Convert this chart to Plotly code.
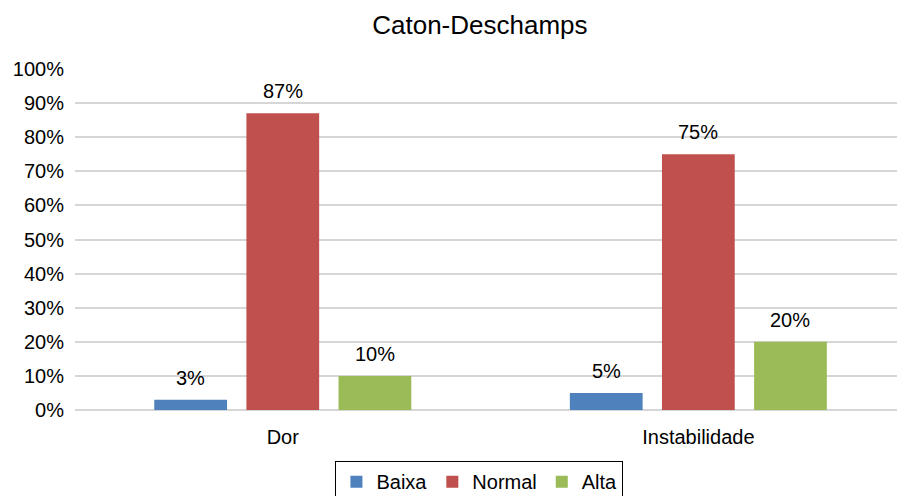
import plotly.graph_objects as go

categories = ["Dor", "Instabilidade"]
series_names = ["Baixa", "Normal", "Alta"]
baixa = [0.03, 0.05]
normal = [0.87, 0.75]
alta = [0.10, 0.20]
colors = ["#4F81BD", "#C0504D", "#9BBB59"]
tick_vals = [i / 10 for i in range(11)]

BARGAP = 0.335
BARGROUPGAP = 0.21
n_series = len(series_names)
slot = (1 - BARGAP) / n_series

fig = go.Figure()
annotations = []
for j, (name, vals, c) in enumerate(zip(series_names, [baixa, normal, alta], colors)):
    fig.add_trace(go.Bar(
        x=categories, y=vals, name=name, marker_color=c, marker_line_width=0,
        hoverinfo="skip",
    ))
    for i, v in enumerate(vals):
        annotations.append(dict(
            x=i + (j - (n_series - 1) / 2) * slot, y=v, xref="x", yref="y",
            text=f"{round(v*100)}%", showarrow=False, yanchor="middle", yshift=22,
            font=dict(size=20, color="black"),
        ))

fig.update_layout(
    width=897, height=496,
    margin=dict(l=75, r=0, t=69, b=86, autoexpand=False),
    paper_bgcolor="white", plot_bgcolor="white",
    font=dict(family="Liberation Sans, Arial, sans-serif", size=20, color="black"),
    title=dict(text="Caton-Deschamps", x=0.535, xanchor="center", y=0.95, yanchor="middle",
               font=dict(size=26)),
    barmode="group", bargap=BARGAP, bargroupgap=BARGROUPGAP,
    annotations=annotations,
    showlegend=True,
    legend=dict(orientation="h", x=0.492, xanchor="center", y=-0.15, yanchor="top",
                bordercolor="black", borderwidth=1, font=dict(size=20),
                itemwidth=30, tracegroupgap=0),
    xaxis=dict(range=[-0.5, 1.478], showgrid=False, showline=False, ticks="",
               tickfont=dict(size=20), automargin=False, ticklabelstandoff=13),
    yaxis=dict(range=[0, 1], tickvals=tick_vals, tickformat=".0%",
               showgrid=True, gridcolor="#D6D6D6", gridwidth=1.5,
               zeroline=True, zerolinecolor="#D6D6D6", zerolinewidth=1.5,
               showline=False, ticks="", tickfont=dict(size=20), ticklabelstandoff=10,
               automargin=False),
)

fig.write_html("out.html", config={"displayModeBar": False},
               post_script="document.body.style.margin='0';document.body.style.overflow='hidden';")
